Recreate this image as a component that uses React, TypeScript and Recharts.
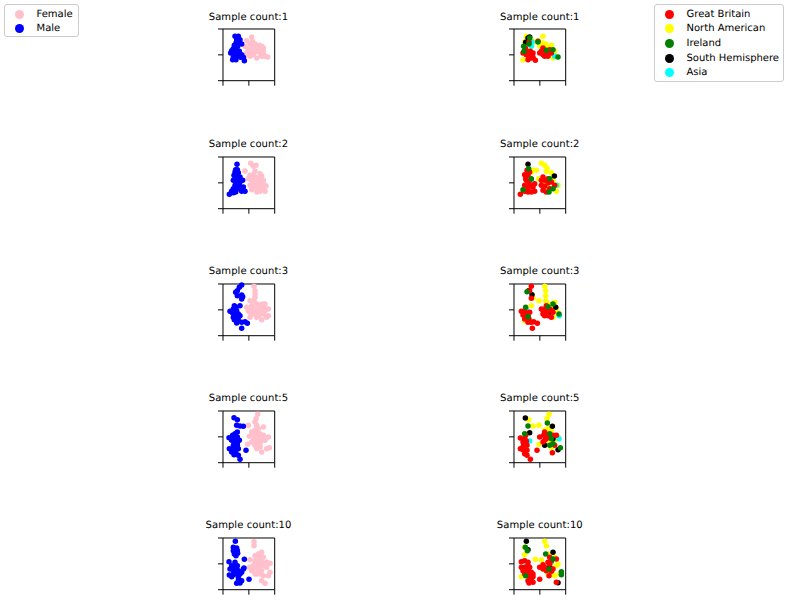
import {
  ReferenceLine,
  Scatter,
  ScatterChart,
  XAxis,
  YAxis,
} from 'recharts'

type Pair = [number, number]

// embedding values, y counted from the top of each panel
const sampleCounts = [1, 2, 3, 5, 10]
const axisTicks = [0, 77.5, 155]

const female1: Pair[] = [[86,24],[71,35],[88,37],[66,52],[81,45],[96,45],[109,49],[116,52],[121,57],[101,55],[91,55],[86,62],[106,62],[121,67],[96,69],[111,72],[81,75],[71,72],[66,82],[81,82],[101,87],[116,82],[126,82],[134,84],[91,77],[76,60],[96,52],[106,55],[101,65],[91,69],[111,60],[121,75],[86,70]]
const male1: Pair[] = [[36,22],[46,22],[41,32],[51,32],[39,42],[49,42],[56,45],[34,49],[44,52],[31,59],[41,59],[26,65],[36,67],[49,67],[23,72],[33,75],[43,75],[56,77],[31,85],[41,82],[53,85],[61,85],[29,92],[39,92],[64,95]]
const female2: Pair[] = [[83,19],[91,28],[99,25],[66,42],[96,43],[76,65],[111,50],[116,57],[96,60],[106,63],[86,70],[121,70],[96,75],[111,75],[81,85],[96,87],[116,85],[129,87],[86,98],[101,105],[111,103],[126,103],[119,97],[106,90],[91,53],[81,55],[101,68],[91,80],[106,80],[116,73],[101,95],[91,92],[111,90],[121,80]]
const male2: Pair[] = [[42,22],[38,38],[43,38],[36,45],[46,47],[33,55],[43,55],[51,60],[36,63],[46,65],[31,70],[41,73],[51,75],[59,70],[36,85],[49,85],[61,90],[31,95],[46,95],[56,103],[66,103],[26,103],[19,112],[38,105],[31,107]]
const female3: Pair[] = [[93,7],[96,20],[96,30],[96,40],[93,50],[81,50],[71,70],[86,65],[101,60],[116,60],[126,60],[96,75],[111,70],[126,80],[136,95],[81,85],[91,90],[106,85],[121,90],[136,75],[81,100],[101,100],[116,107],[131,100],[91,80],[76,80],[106,75],[116,80],[101,85],[111,90],[96,90],[86,75],[121,70],[106,95]]
const male3: Pair[] = [[56,3],[49,10],[43,20],[38,25],[56,33],[43,35],[59,38],[56,45],[51,65],[34,65],[39,70],[21,82],[31,75],[41,80],[29,87],[36,90],[46,90],[31,100],[41,100],[51,95],[34,107],[46,110],[56,115],[66,113],[73,118],[56,133],[41,117],[36,80],[46,100],[36,107]]
const female5: Pair[] = [[104,10],[99,23],[96,33],[101,43],[76,43],[106,53],[121,48],[96,58],[86,63],[111,68],[79,76],[96,78],[121,73],[136,78],[106,83],[91,88],[126,88],[74,100],[96,103],[86,93],[111,98],[131,113],[139,110],[101,113],[116,123],[111,108],[106,73],[96,90],[116,88],[106,95],[91,73],[101,63],[96,98],[101,53]]
const male5: Pair[] = [[33,20],[43,26],[41,43],[51,45],[61,46],[43,63],[36,68],[29,73],[18,80],[31,83],[43,78],[26,88],[36,93],[49,88],[31,103],[43,103],[19,113],[29,113],[39,116],[26,123],[39,128],[46,133],[51,145],[69,118],[33,131],[43,98],[36,83],[36,103],[46,113]]
const female10: Pair[] = [[93,11],[93,23],[116,43],[106,48],[96,53],[81,65],[121,58],[96,68],[111,68],[131,73],[79,88],[91,83],[106,83],[121,83],[141,76],[86,98],[106,98],[96,108],[141,103],[136,113],[116,128],[126,136],[121,113],[131,88],[111,58],[101,88],[101,73],[111,88],[116,73],[96,78],[106,68],[116,98],[91,93],[126,83],[101,108],[111,108]]
const male10: Pair[] = [[37,10],[31,28],[41,30],[31,38],[43,38],[34,48],[44,46],[39,53],[64,64],[18,71],[36,73],[63,90],[26,83],[36,88],[43,83],[21,93],[31,98],[46,98],[19,111],[31,110],[43,108],[56,103],[26,116],[56,128],[46,128],[41,136],[51,135],[78,124],[61,93],[36,103],[41,93],[51,108],[46,118]]

const britain1: Pair[] = [[45,39],[72,37],[34,57],[27,72],[40,67],[49,67],[37,77],[45,82],[57,85],[64,94],[57,72],[87,57],[77,72],[92,67],[87,77],[97,77],[102,82],[112,72],[107,62],[92,82],[52,87],[42,92],[37,67],[45,72],[82,67],[97,67],[107,72]]
const america1: Pair[] = [[37,22],[32,39],[87,22],[72,35],[57,40],[77,52],[112,49],[102,52],[27,92],[122,67],[95,45],[87,42],[117,87],[87,52],[39,62],[52,32]]
const ireland1: Pair[] = [[47,27],[72,39],[29,52],[30,67],[117,62],[132,84],[45,45],[97,64]]
const south1: Pair[] = [[47,24],[35,40],[42,27]]
const asia1: Pair[] = [[54,39],[52,52],[122,82]]

const britain2: Pair[] = [[39,40],[47,45],[32,53],[42,55],[35,65],[45,75],[32,85],[47,85],[57,90],[62,103],[52,105],[42,105],[32,103],[19,112],[82,85],[87,100],[92,70],[102,65],[112,75],[122,85],[97,105],[107,95],[82,70],[62,80],[37,70],[42,95],[92,88],[102,78],[87,60]]
const america2: Pair[] = [[82,19],[92,25],[99,33],[97,43],[112,47],[57,40],[67,40],[74,65],[117,70],[132,85],[127,103],[92,85],[102,90],[87,80],[52,45],[42,43]]
const ireland2: Pair[] = [[44,35],[52,65],[105,105],[117,95],[27,98],[107,65]]
const south2: Pair[] = [[42,22],[121,57]]
const asia2: Pair[] = [[127,85],[52,70]]

const britain3: Pair[] = [[52,7],[47,20],[52,43],[22,82],[32,80],[27,93],[42,95],[32,105],[45,105],[52,115],[59,113],[70,118],[55,133],[42,115],[82,75],[92,75],[97,85],[87,90],[102,95],[112,100],[117,85],[97,65],[107,75],[112,80],[37,88],[47,85],[87,80],[92,95],[100,78]]
const america3: Pair[] = [[92,7],[95,20],[95,35],[95,50],[75,50],[52,65],[57,43],[32,110],[112,60],[127,75],[132,90],[117,100],[97,55],[117,70],[102,78],[122,55]]
const ireland3: Pair[] = [[39,23],[35,70],[42,98],[102,68],[117,60],[135,90]]
const south3: Pair[] = [[44,20],[54,32],[125,70],[107,85]]
const asia3: Pair[] = [[136,95],[37,77]]

const britain5: Pair[] = [[49,145],[39,133],[32,128],[27,116],[19,113],[29,103],[19,81],[32,83],[35,73],[27,93],[39,103],[69,118],[77,78],[92,63],[97,83],[92,88],[117,73],[127,73],[122,103],[115,125],[89,73],[105,78],[87,93],[39,118],[37,90],[32,98],[27,108],[107,70],[95,75]]
const america5: Pair[] = [[105,10],[99,23],[44,26],[57,45],[75,43],[102,53],[112,56],[92,58],[132,78],[75,100],[112,110],[122,88],[37,113],[107,93]]
const ireland5: Pair[] = [[100,36],[42,45],[32,68],[107,68],[112,83],[107,103],[139,110],[117,98]]
const south5: Pair[] = [[34,21],[47,65],[115,46],[117,83],[132,116],[92,103]]
const asia5: Pair[] = [[47,90],[135,83]]

const britain10: Pair[] = [[47,116],[52,128],[42,128],[45,135],[57,133],[77,124],[22,71],[32,68],[42,73],[22,88],[32,88],[27,98],[42,98],[52,103],[32,108],[47,108],[57,116],[77,88],[92,88],[102,73],[112,68],[127,63],[97,98],[117,93],[107,58],[127,133],[105,113],[42,83],[37,93],[47,88],[37,103],[57,108],[87,93],[107,78],[112,100],[87,80]]
const america10: Pair[] = [[92,10],[97,23],[32,28],[32,50],[64,64],[82,66],[112,88],[132,78],[22,116],[102,48],[122,58],[127,83],[102,108],[122,113],[137,108],[117,110]]
const ireland10: Pair[] = [[34,28],[40,38],[95,48],[105,93],[142,101],[142,110],[35,113],[117,63]]
const south10: Pair[] = [[37,10],[42,35],[117,43],[107,88],[132,134]]
const asia10: Pair[] = [[37,83],[112,73]]

const genderNames = ['Female', 'Male']
const genderColors = ['pink', 'blue']
const genderRows = [
  [female1, male1],
  [female2, male2],
  [female3, male3],
  [female5, male5],
  [female10, male10],
]

const regionNames = ['Great Britain', 'North American', 'Ireland', 'South Hemisphere', 'Asia']
const regionColors = ['red', 'yellow', 'green', 'black', 'cyan']
const regionRows = [
  [britain1, america1, ireland1, south1, asia1],
  [britain2, america2, ireland2, south2, asia2],
  [britain3, america3, ireland3, south3, asia3],
  [britain5, america5, ireland5, south5, asia5],
  [britain10, america10, ireland10, south10, asia10],
]
// yellow goes down first, red and green end up on top of it
const regionDrawOrder = [1, 4, 3, 0, 2]

const font = '"DejaVu Sans", sans-serif'
const panelTops = [29.4, 156.6, 283.7, 410.8, 537.9]
const blank = () => ''

const Dot = (props: any) => <circle cx={props.cx} cy={props.cy} r={2.75} fill={props.fill} />

function Panel({ left, top, title, groups, colors, order }: {
  left: number
  top: number
  title: string
  groups: Pair[][]
  colors: string[]
  order: number[]
}) {
  return (
    <>
      <div style={{ position: 'absolute', left: left - 50.5, top: top - 17.6, width: 152, textAlign: 'center', fontFamily: font, fontSize: 10, lineHeight: '12px', letterSpacing: 0.06, textRendering: 'geometricPrecision', color: '#000' }}>
        {title}
      </div>
      <div style={{ position: 'absolute', left: left - 10, top: top - 10 }}>
        <ScatterChart width={71.7} height={71.7} margin={{ top: 10, right: 10, bottom: 0, left: 0 }}>
          <XAxis type="number" dataKey="x" domain={[0, 155]} ticks={axisTicks} interval={0} height={10} tickSize={5} tickFormatter={blank} stroke="#000" />
          <YAxis type="number" dataKey="y" domain={[0, 155]} ticks={axisTicks} interval={0} width={10} tickSize={5} tickFormatter={blank} stroke="#000" reversed />
          {order.map((i) => (
            <Scatter
              key={i}
              data={groups[i].map(([x, y]) => ({ x, y }))}
              fill={colors[i]}
              shape={Dot}
              isAnimationActive={false}
            />
          ))}
          <ReferenceLine x={155} stroke="#000" />
          <ReferenceLine y={0} stroke="#000" />
        </ScatterChart>
      </div>
    </>
  )
}

function LegendBox({ left, width, names, colors }: {
  left: number
  width: number
  names: string[]
  colors: string[]
}) {
  return (
    <div style={{ position: 'absolute', left, top: 4, width, height: names.length * 14.7 + 4, border: '1px solid #ccc', borderRadius: 3, background: '#fff', boxSizing: 'border-box', fontFamily: font, fontSize: 10, textRendering: 'geometricPrecision', color: '#000' }}>
      {names.map((name, i) => (
        <div key={name} style={{ position: 'absolute', left: 0, top: 2.6 + i * 14.7, height: 14, lineHeight: '14px', whiteSpace: 'nowrap' }}>
          <span style={{ position: 'absolute', left: 10, top: 2, width: 9, height: 9, borderRadius: '50%', background: colors[i] }} />
          <span style={{ position: 'absolute', left: 31.5 }}>{name}</span>
        </div>
      ))}
    </div>
  )
}

export default function App() {
  return (
    <div style={{ position: 'absolute', left: 0, top: 0, width: 789, height: 607, overflow: 'hidden', background: '#fff' }}>
      {sampleCounts.map((count, row) => (
        <div key={count}>
          <Panel left={223} top={panelTops[row]} title={`Sample count:${count}`} groups={genderRows[row]} colors={genderColors} order={[0, 1]} />
          <Panel left={514.3} top={panelTops[row]} title={`Sample count:${count}`} groups={regionRows[row]} colors={regionColors} order={regionDrawOrder} />
        </div>
      ))}
      <LegendBox left={4} width={75} names={genderNames} colors={genderColors} />
      <LegendBox left={654} width={130} names={regionNames} colors={regionColors} />
    </div>
  )
}
